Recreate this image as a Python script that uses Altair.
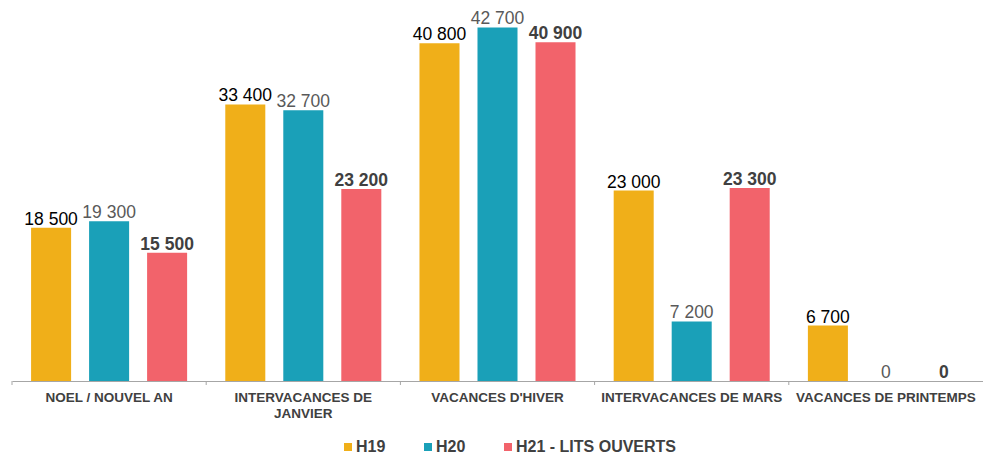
import altair as alt
import pandas as pd

categories = ["NOEL / NOUVEL AN", "INTERVACANCES DE JANVIER", "VACANCES D'HIVER",
              "INTERVACANCES DE MARS", "VACANCES DE PRINTEMPS"]
series = ["H19", "H20", "H21 - LITS OUVERTS"]
h19 = [18500, 33400, 40800, 23000, 6700]
h20 = [19300, 32700, 42700, 7200, 0]
h21 = [15500, 23200, 40900, 23300, 0]

colors = ["#F0AF19", "#1AA0B8", "#F2636B"]
text_colors = ["#000000", "#595959", "#404040"]
text_weights = ["normal", "normal", "bold"]

rows = []
for s, vals in zip(series, [h19, h20, h21]):
    for c, v in zip(categories, vals):
        rows.append({"cat": c, "serie": s, "value": v,
                     "label": f"{v:,}".replace(",", " ")})
df = pd.DataFrame(rows)

FONT = "Liberation Sans"

axis = alt.Axis(
    title=None, ticks=False, domainColor="#A6A6A6", domainWidth=1,
    labelFont=FONT, labelFontSize=13.5, labelFontWeight="bold", labelColor="#404040",
    labelAngle=0, labelPadding=9, labelLineHeight=16, labelLimit=300,
    labelExpr="datum.label == 'INTERVACANCES DE JANVIER' ? ['INTERVACANCES DE', 'JANVIER'] : datum.label",
)
xscale = alt.Scale(paddingInner=0, paddingOuter=0)
x = alt.X("cat:N", sort=categories, scale=xscale, axis=axis)
xo = alt.XOffset("serie:N", sort=series,
                 scale=alt.Scale(paddingInner=0.31, paddingOuter=0.329))
y = alt.Y("value:Q", scale=alt.Scale(domain=[0, 45050], nice=False), axis=None)

base = alt.Chart(df)
bars = base.mark_bar().encode(
    x=x, xOffset=xo, y=y,
    color=alt.Color("serie:N", sort=series,
                    scale=alt.Scale(domain=series, range=colors),
                    legend=alt.Legend(title=None, orient="none", legendX=328, legendY=431,
                                      direction="horizontal", symbolType="square",
                                      symbolSize=64, symbolStrokeWidth=0,
                                      labelFont=FONT, labelFontSize=16, labelLimit=400,
                                      labelFontWeight="bold", labelColor="#404040",
                                      columnPadding=34, labelOffset=0, padding=0)),
)

layers = [bars]
for s, tc, tw in zip(series, text_colors, text_weights):
    layers.append(
        base.transform_filter(alt.datum.serie == s)
        .mark_text(baseline="alphabetic", dy=-3, font=FONT, fontSize=17.5, color=tc, fontWeight=tw)
        .encode(x=x, xOffset=xo, y=y, text="label:N")
    )

ticks = alt.Chart(pd.DataFrame({"cat": categories})).mark_rule(color="#A6A6A6").encode(
    x=alt.X("cat:N", sort=categories, scale=xscale, axis=axis, bandPosition=0),
    y=alt.value(373), y2=alt.value(377),
)
layers.append(ticks)

chart = alt.layer(*layers).properties(
    width=971, height=373,
    autosize=alt.AutoSizeParams(type="none"),
    padding={"left": 4, "top": 0, "right": 0, "bottom": 73},
).configure_view(strokeWidth=0)

chart.save("out.html", embed_options={"renderer": "svg", "actions": False})
